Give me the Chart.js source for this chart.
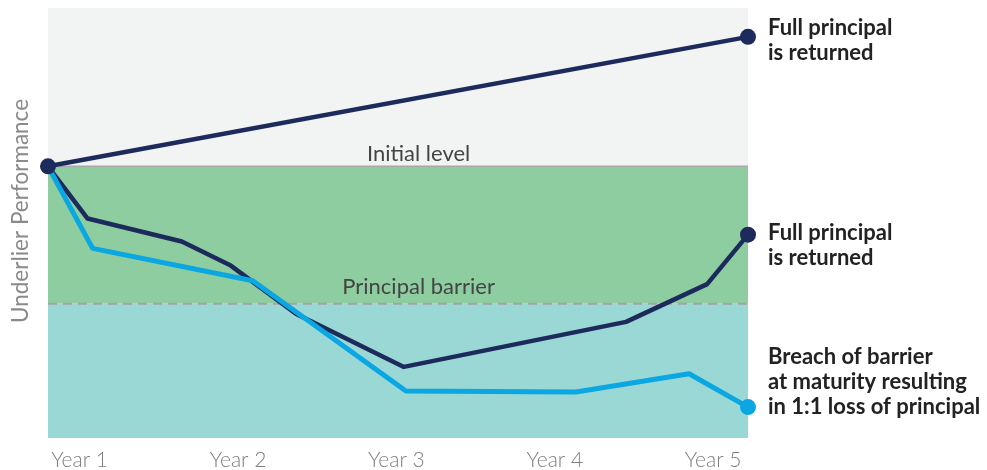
<!DOCTYPE html>
<html>
<head>
<meta charset="utf-8">
<script src="https://cdn.jsdelivr.net/npm/chart.js@4.4.1/dist/chart.umd.min.js"></script>
<style>
  html, body { margin: 0; padding: 0; background: #ffffff; }
  #wrap { width: 987px; height: 470px; position: relative; }
</style>
</head>
<body>
<div id="wrap"><canvas id="chart"></canvas></div>
<script>
// Observation years on the horizontal axis
const yearTicks = [1, 2, 3, 4, 5];
const yearLabels = ['Year 1', 'Year 2', 'Year 3', 'Year 4', 'Year 5'];

// Reference levels (initial level = 100)
const initialLevel = 100;
const barrierLevel = 60;

// Scenario paths: [year, underlier level]
const upsidePath = [[0.8, 100], [5.22, 137.7]];
const recoveryPath = [
  [0.8, 100], [1.05, 84.8], [1.645, 78.1], [1.954, 71.1], [2.365, 57.1],
  [3.047, 41.6], [4.45, 54.7], [4.962, 65.7], [5.22, 80.1]
];
const breachPath = [
  [0.8, 100], [1.082, 76.1], [2.093, 66.7], [3.06, 34.6],
  [4.134, 34.3], [4.848, 39.6], [5.22, 29.9]
];

// Outcome notes shown to the right of each path's end
const upsideNote = ['Full principal', 'is returned'];
const recoveryNote = ['Full principal', 'is returned'];
const breachNote = ['Breach of barrier', 'at maturity resulting', 'in 1:1 loss of principal'];

const NAVY = '#1c2b5b';
const SKY = '#0aa7e2';
const FONT = 'Lato, "Open Sans", sans-serif';

const toPoints = path => path.map(([x, y]) => ({ x, y }));

function endDots(showStart) {
  return ctx => {
    const n = ctx.dataset.data.length;
    if (ctx.dataIndex === n - 1) return 8;
    if (showStart && ctx.dataIndex === 0) return 8;
    return 0;
  };
}

const zonesPlugin = {
  id: 'zones',
  beforeDatasetsDraw(chart) {
    const { ctx, chartArea: a, scales: { x, y } } = chart;
    const yInit = y.getPixelForValue(initialLevel);
    const yBar = y.getPixelForValue(barrierLevel);
    ctx.save();
    ctx.fillStyle = '#f2f4f4';
    ctx.fillRect(a.left, a.top, a.width, yInit - a.top);
    ctx.fillStyle = '#8ecda0';
    ctx.fillRect(a.left, yInit, a.width, yBar - yInit);
    ctx.fillStyle = '#9ad8d6';
    ctx.fillRect(a.left, yBar, a.width, a.bottom - yBar);

    // initial level rule
    ctx.strokeStyle = '#a8a8a8';
    ctx.lineWidth = 1.5;
    ctx.beginPath();
    ctx.moveTo(a.left, yInit);
    ctx.lineTo(a.right, yInit);
    ctx.stroke();

    // barrier rule
    ctx.strokeStyle = '#a3a3a3';
    ctx.lineWidth = 2;
    ctx.setLineDash([9, 6]);
    ctx.beginPath();
    ctx.moveTo(a.left, yBar);
    ctx.lineTo(a.right, yBar);
    ctx.stroke();
    ctx.setLineDash([]);

    ctx.fillStyle = '#444444';
    ctx.font = '400 22px ' + FONT;
    ctx.textAlign = 'center';
    ctx.textBaseline = 'alphabetic';
    const lx = x.getPixelForValue(3.14);
    ctx.fillText('Initial level', lx, yInit - 5);
    ctx.fillText('Principal barrier', lx, yBar - 10);
    ctx.restore();
  },
  afterDraw(chart) {
    const { ctx, chartArea: a, scales: { y } } = chart;
    ctx.save();

    // vertical axis title
    ctx.fillStyle = '#8a8a8a';
    ctx.font = '400 22.5px ' + FONT;
    ctx.textAlign = 'center';
    ctx.textBaseline = 'alphabetic';
    ctx.translate(28, 211);
    ctx.rotate(-Math.PI / 2);
    ctx.fillText('Underlier Performance', 0, 0);
    ctx.setTransform(1, 0, 0, 1, 0, 0);

    // outcome notes
    ctx.fillStyle = '#222222';
    ctx.font = '700 22px ' + FONT;
    ctx.textAlign = 'left';
    ctx.textBaseline = 'alphabetic';
    const tx = a.right + 20;
    const endY = path => y.getPixelForValue(path[path.length - 1][1]);
    const drawNote = (lines, firstBaseline) => {
      lines.forEach((t, i) => ctx.fillText(t, tx, firstBaseline + i * 25));
    };
    drawNote(upsideNote, endY(upsidePath) - 2);
    drawNote(recoveryNote, endY(recoveryPath) + 5);
    drawNote(breachNote, endY(breachPath) - 43);
    ctx.restore();
  }
};

new Chart(document.getElementById('chart'), {
  type: 'line',
  data: {
    datasets: [
      {
        data: toPoints(upsidePath),
        borderColor: NAVY, backgroundColor: NAVY, borderWidth: 4.5,
        pointRadius: endDots(true), pointBackgroundColor: NAVY, pointBorderWidth: 0,
        clip: false
      },
      {
        data: toPoints(breachPath),
        borderColor: SKY, backgroundColor: SKY, borderWidth: 5,
        pointRadius: endDots(false), pointBackgroundColor: SKY, pointBorderWidth: 0,
        clip: false
      },
      {
        data: toPoints(recoveryPath),
        borderColor: NAVY, backgroundColor: NAVY, borderWidth: 4.5,
        pointRadius: endDots(false), pointBackgroundColor: NAVY, pointBorderWidth: 0,
        clip: false
      }
    ]
  },
  options: {
    responsive: true,
    maintainAspectRatio: false,
    animation: false,
    events: [],
    layout: { padding: { left: 48, right: 239, top: 8, bottom: -13 } },
    elements: { line: { tension: 0, borderJoinStyle: 'round', borderCapStyle: 'round' } },
    plugins: { legend: { display: false }, tooltip: { enabled: false } },
    scales: {
      x: {
        type: 'linear',
        min: 0.8,
        max: 5.22,
        afterBuildTicks: axis => { axis.ticks = yearTicks.map(v => ({ value: v })); },
        grid: { display: false, drawTicks: false },
        border: { display: false },
        ticks: {
          autoSkip: false,
          maxRotation: 0,
          padding: 12,
          color: '#7d7d7d',
          font: { family: FONT, size: 21, weight: '300', lineHeight: 1 },
          callback: v => yearLabels[yearTicks.indexOf(v)]
        }
      },
      y: {
        display: false,
        min: 20.9,
        max: 146.1
      }
    }
  },
  plugins: [zonesPlugin]
});
</script>
</body>
</html>
